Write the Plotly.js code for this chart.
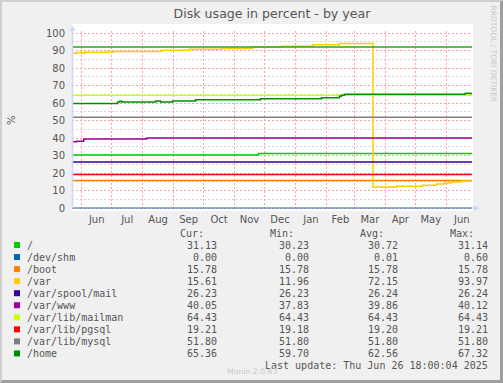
<!DOCTYPE html>
<html>
<head>
<meta charset="utf-8">
<script src="https://cdn.plot.ly/plotly-3.0.1.min.js"></script>
<style>
  html, body { margin: 0; padding: 0; background: #f0f0f0; }
  #frame { width: 503px; height: 383px; box-sizing: border-box;
           border-left: 2px solid #cfcfcf; border-top: 2px solid #cfcfcf;
           border-right: 3px solid #9e9e9e; border-bottom: 3px solid #9e9e9e;
           background: #f0f0f0; overflow: hidden; }
  #chart { width: 498px; height: 378px; }
</style>
</head>
<body>
<div id="frame"><div id="chart"></div></div>
<script>
// ---------------- data ----------------
const seriesNames  = ['/', '/dev/shm', '/boot', '/var', '/var/spool/mail', '/var/www', '/var/lib/mailman', '/var/lib/pgsql', '/var/lib/mysql', '/home'];
const seriesColors = ['#00cc00', '#0066b3', '#ff8000', '#ffcc00', '#330099', '#990099', '#ccff00', '#ff0000', '#808080', '#008f00'];
const curVals = ['31.13', '0.00', '15.78', '15.61', '26.23', '40.05', '64.43', '19.21', '51.80', '65.36'];
const minVals = ['30.23', '0.00', '15.78', '11.96', '26.23', '37.83', '64.43', '19.18', '51.80', '59.70'];
const avgVals = ['30.72', '0.01', '15.78', '72.15', '26.24', '39.86', '64.43', '19.20', '51.80', '62.56'];
const maxVals = ['31.14', '0.60', '15.78', '93.97', '26.24', '40.12', '64.43', '19.21', '51.80', '67.32'];

const axisStart = '2024-05-22 06:00';
const dataStart = '2024-05-23';
const dataEnd   = '2025-06-26 18:00';

const rootDates = [dataStart, '2024-11-25', dataEnd];
const rootVals  = [30.23, 31.13, 31.13];
const shmDates  = [dataStart, dataEnd];
const shmVals   = [0, 0];
const bootDates = [dataStart, dataEnd];
const bootVals  = [15.78, 15.78];
const varDates  = [dataStart, '2024-05-27', '2024-06-01', '2024-06-04', '2024-06-27', '2024-07-01', '2024-07-03',
                   '2024-08-20', '2024-09-17', '2024-10-19', '2024-11-19', '2024-12-18', '2025-01-18', '2025-02-14',
                   '2025-03-19 14:00', '2025-04-12', '2025-05-08', '2025-05-22', '2025-05-30', '2025-06-06', '2025-06-16', dataEnd];
const varVals   = [88.4, 88.8, 88.4, 89.0, 89.5, 89.0, 89.5,
                   90.1, 90.7, 91.2, 92.0, 92.4, 93.3, 93.97,
                   11.96, 12.4, 13.0, 13.7, 14.3, 14.9, 15.4, 15.61];
const mailDates = [dataStart, dataEnd];
const mailVals  = [26.23, 26.23];
const wwwDates  = [dataStart, '2024-05-27', '2024-06-03', '2024-08-05', dataEnd];
const wwwVals   = [37.83, 38.2, 39.5, 40.05, 40.05];
const mailmanDates = [dataStart, dataEnd];
const mailmanVals  = [64.43, 64.43];
const pgsqlDates = [dataStart, dataEnd];
const pgsqlVals  = [19.21, 19.21];
const mysqlDates = [dataStart, dataEnd];
const mysqlVals  = [51.80, 51.80];
const homeDates = [dataStart, '2024-07-07', '2024-07-09', '2024-07-11', '2024-08-14', '2024-08-19', '2024-08-31',
                   '2024-09-23', '2024-11-27', '2025-01-27', '2025-02-14', '2025-02-16', '2025-02-19', '2025-06-20', '2025-06-25', dataEnd];
const homeVals  = [59.75, 60.6, 61.0, 60.6, 61.1, 60.6, 61.1,
                   61.8, 62.4, 63.0, 63.8, 64.5, 65.0, 65.6, 65.36, 65.36];
const warnDates = [axisStart, dataEnd];
const warnVals  = [92, 92];
const warnColor = '#22a822';

const titleText = 'Disk usage in percent - by year';
const yTitle = '%';
const headers = ['Cur:', 'Min:', 'Avg:', 'Max:'];
const lastUpdate = 'Last update: Thu Jun 26 18:00:04 2025';
const muninText = 'Munin 2.0.63';
const rrdText = 'RRDTOOL / TOBI OETIKER';

// ---------------- geometry helpers (absolute page pixels) ----------------
const FR = 2;                 // frame offset (left/top border)
const PL = 72, PR = 472, PT = 31, PB = 210;
const Y0PX = 208, Y100PX = 33;
const ppu = (Y0PX - Y100PX) / 100;
const yLo = -(PB - Y0PX) / ppu, yHi = 100 + (Y100PX - PT) / ppu;
const W = 498, H = 378;
const px = x => (x - PL) / (PR - PL);
const py = y => (PB - y) / (PB - PT);

const TXT = '#555555';
const SANS = 'DejaVu Sans, Verdana, sans-serif';
const MONO = 'DejaVu Sans Mono, monospace';

const seriesX = [rootDates, shmDates, bootDates, varDates, mailDates, wwwDates, mailmanDates, pgsqlDates, mysqlDates, homeDates];
const seriesY = [rootVals, shmVals, bootVals, varVals, mailVals, wwwVals, mailmanVals, pgsqlVals, mysqlVals, homeVals];

const traces = [];
seriesNames.forEach((n, i) => {
  traces.push({
    type: 'scatter', mode: 'lines', name: n,
    x: seriesX[i], y: seriesY[i],
    line: { color: seriesColors[i], width: 1.5, shape: 'hv' },
    opacity: n === '/dev/shm' ? 0.5 : 1,
    hoverinfo: 'skip', showlegend: false
  });
  if (n === '/var') {
    traces.push({
      type: 'scatter', mode: 'lines', name: 'warning',
      x: warnDates, y: warnVals,
      line: { color: warnColor, width: 1.5 },
      hoverinfo: 'skip', showlegend: false
    });
  }
});

// ---------------- shapes ----------------
const AX = '#cfd6f8';
const shapes = [
  // white canvas
  { type: 'rect', xref: 'paper', yref: 'paper', layer: 'below',
    x0: px(72), x1: px(473), y0: py(211), y1: py(24), fillcolor: '#ffffff', line: { width: 0 } },
  // y axis line + arrow
  { type: 'line', xref: 'paper', yref: 'paper', layer: 'above',
    x0: px(72.5), x1: px(72.5), y0: py(Y0PX), y1: py(30), line: { color: AX, width: 1.5 } },
  { type: 'path', xref: 'paper', yref: 'paper', layer: 'above',
    path: `M ${px(69.5)},${py(31)} L ${px(75.5)},${py(31)} L ${px(72.5)},${py(25.5)} Z`,
    fillcolor: AX, line: { width: 0 } },
  // x axis line + arrow
  { type: 'line', xref: 'paper', yref: 'paper', layer: 'below',
    x0: px(72), x1: px(475), y0: py(Y0PX), y1: py(Y0PX), line: { color: AX, width: 1.5 } },
  { type: 'path', xref: 'paper', yref: 'paper', layer: 'above',
    path: `M ${px(474)},${py(205)} L ${px(474)},${py(211)} L ${px(479.5)},${py(208)} Z`,
    fillcolor: AX, line: { width: 0 } }
];

// ---------------- legend table ----------------
const annotations = [];
const rowY0 = 245, rowStep = 12.05;
const valRight = [218, 309.5, 399, 488.5];
const hdrRight = [204.5, 295, 385, 475];
const cols = [curVals, minVals, avgVals, maxVals];
const mono = { family: MONO, size: 10, color: TXT };

headers.forEach((h, j) => annotations.push({
  xref: 'paper', yref: 'paper', x: px(hdrRight[j]), y: py(233.5), xanchor: 'right', yanchor: 'middle',
  text: h, showarrow: false, font: mono, borderpad: 0
}));

seriesNames.forEach((n, i) => {
  const yy = rowY0 + i * rowStep;
  shapes.push({ type: 'rect', xref: 'paper', yref: 'paper', layer: 'above',
    x0: px(14), x1: px(20), y0: py(yy + 3), y1: py(yy - 3), fillcolor: seriesColors[i], line: { width: 0 } });
  annotations.push({ xref: 'paper', yref: 'paper', x: px(26), y: py(yy), xanchor: 'left', yanchor: 'middle',
    text: n, showarrow: false, font: mono, borderpad: 0 });
  cols.forEach((c, j) => annotations.push({
    xref: 'paper', yref: 'paper', x: px(valRight[j]), y: py(yy), xanchor: 'right', yanchor: 'middle',
    text: c[i], showarrow: false, font: mono, borderpad: 0 }));
});

annotations.push({ xref: 'paper', yref: 'paper', x: px(488.5), y: py(365), xanchor: 'right', yanchor: 'middle',
  text: lastUpdate, showarrow: false, font: mono, borderpad: 0 });
annotations.push({ xref: 'paper', yref: 'paper', x: px(252), y: py(371.7), xanchor: 'center', yanchor: 'middle',
  text: muninText, showarrow: false, font: { family: SANS, size: 7.7, color: '#c8c8c8' }, borderpad: 0 });
annotations.push({ xref: 'paper', yref: 'paper', x: px(493.5), y: py(54), xanchor: 'center', yanchor: 'middle',
  text: rrdText, textangle: 90, showarrow: false, font: { family: SANS, size: 7.5, color: '#c8c8c8' }, borderpad: 0 });
annotations.push({ xref: 'paper', yref: 'paper', x: px(11), y: py(120), xanchor: 'center', yanchor: 'middle',
  text: yTitle, textangle: -90, showarrow: false, font: { family: SANS, size: 10, color: TXT }, borderpad: 0 });

const layout = {
  width: W, height: H,
  margin: { l: PL - FR, r: W - (PR - FR), t: PT - FR, b: H - (PB - FR), pad: 0 },
  paper_bgcolor: '#f0f0f0', plot_bgcolor: '#ffffff',
  title: { text: titleText, x: (251 - FR) / W, xanchor: 'center', xref: 'paper', y: 1 - (14 - FR) / H, yanchor: 'middle', yref: 'container',
           font: { family: SANS, size: 12.6, color: TXT } },
  xaxis: {
    type: 'date', range: [axisStart, dataEnd],
    tick0: '2024-06-01', dtick: 'M1', ticklabelmode: 'period', tickformat: '%b',
    showgrid: true, gridcolor: '#f2a4a4', griddash: '2px,2px', gridwidth: 1,
    ticks: '', showline: false, zeroline: false, ticklabelstandoff: 2,
    tickfont: { family: SANS, size: 10, color: TXT }, fixedrange: true
  },
  yaxis: {
    range: [yLo, yHi], tick0: 0, dtick: 10,
    showgrid: true, gridcolor: '#f2a4a4', griddash: '2px,2px', gridwidth: 1,
    minor: { dtick: 5, tick0: 0, showgrid: true, gridcolor: '#d4d4d4', griddash: '2px,2px', gridwidth: 1 },
    ticks: '', showline: false, zeroline: false, ticklabelstandoff: 6,
    tickfont: { family: SANS, size: 10, color: TXT }, fixedrange: true
  },
  shapes: shapes,
  annotations: annotations,
  showlegend: false
};

Plotly.newPlot('chart', traces, layout, { staticPlot: true, displayModeBar: false });
</script>
</body>
</html>
